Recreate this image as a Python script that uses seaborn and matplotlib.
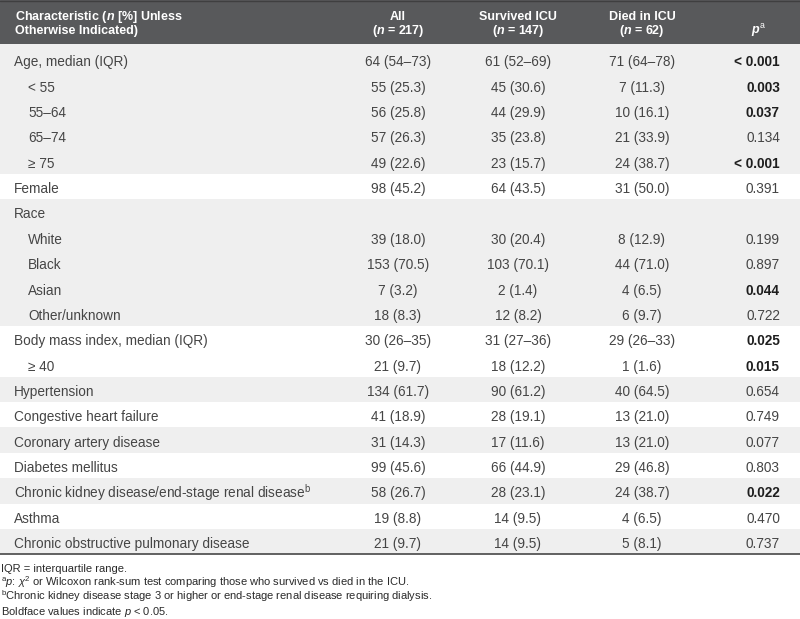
import matplotlib
matplotlib.use("Agg")
import matplotlib.pyplot as plt
import seaborn as sns
from matplotlib.patches import Rectangle

# ---------------- data ----------------
labels = ["Age, median (IQR)", "< 55", "55–64", "65–74", "≥ 75", "Female", "Race",
          "White", "Black", "Asian", "Other/unknown", "Body mass index, median (IQR)",
          "≥ 40", "Hypertension", "Congestive heart failure", "Coronary artery disease",
          "Diabetes mellitus", r"Chronic kidney disease/end-stage renal disease$^{\rm b}$",
          "Asthma", "Chronic obstructive pulmonary disease"]
levels = [0, 1, 1, 1, 1, 0, 0, 1, 1, 1, 1, 0, 1, 0, 0, 0, 0, 0, 0, 0]
all_vals = ["64 (54–73)", "55 (25.3)", "56 (25.8)", "57 (26.3)", "49 (22.6)", "98 (45.2)", "",
            "39 (18.0)", "153 (70.5)", "7 (3.2)", "18 (8.3)", "30 (26–35)", "21 (9.7)",
            "134 (61.7)", "41 (18.9)", "31 (14.3)", "99 (45.6)", "58 (26.7)", "19 (8.8)", "21 (9.7)"]
surv_vals = ["61 (52–69)", "45 (30.6)", "44 (29.9)", "35 (23.8)", "23 (15.7)", "64 (43.5)", "",
             "30 (20.4)", "103 (70.1)", "2 (1.4)", "12 (8.2)", "31 (27–36)", "18 (12.2)",
             "90 (61.2)", "28 (19.1)", "17 (11.6)", "66 (44.9)", "28 (23.1)", "14 (9.5)", "14 (9.5)"]
died_vals = ["71 (64–78)", "7 (11.3)", "10 (16.1)", "21 (33.9)", "24 (38.7)", "31 (50.0)", "",
             "8 (12.9)", "44 (71.0)", "4 (6.5)", "6 (9.7)", "29 (26–33)", "1 (1.6)",
             "40 (64.5)", "13 (21.0)", "13 (21.0)", "29 (46.8)", "24 (38.7)", "4 (6.5)", "5 (8.1)"]
p_vals = ["< 0.001", "0.003", "0.037", "0.134", "< 0.001", "0.391", "",
          "0.199", "0.897", "0.044", "0.722", "0.025", "0.015",
          "0.654", "0.749", "0.077", "0.803", "0.022", "0.470", "0.737"]
header_line1 = [r"Characteristic ($\mathbfit{n}$ [%] Unless", "All", "Survived ICU", "Died in ICU", ""]
header_line2 = ["Otherwise Indicated)", r"($\mathbfit{n}$ = 217)", r"($\mathbfit{n}$ = 147)",
                r"($\mathbfit{n}$ = 62)", r"$\mathbfit{p}^{\rm a}$"]
footnotes = ["IQR = interquartile range.",
             r"$^{\rm a}$$\mathit{p}$: $\chi^2$ or Wilcoxon rank-sum test comparing those who survived vs died in the ICU.",
             r"$^{\rm b}$Chronic kidney disease stage 3 or higher or end-stage renal disease requiring dialysis.",
             r"Boldface values indicate $\mathit{p}$ < 0.05."]

# ---------------- style ----------------
sns.set_theme(style="white")
FONT = "Liberation Sans"
plt.rcParams["font.family"] = [FONT, "DejaVu Sans"]
plt.rcParams["mathtext.fontset"] = "custom"
plt.rcParams["mathtext.rm"] = FONT
plt.rcParams["mathtext.it"] = FONT + ":italic"
plt.rcParams["mathtext.bf"] = FONT + ":bold"
plt.rcParams["mathtext.bfit"] = FONT + ":bold:italic"

W, H = 800, 619
fig = plt.figure(figsize=(8, 6.19), dpi=100)
ax = fig.add_axes([0, 0, 1, 1])
ax.set_xlim(0, W)
ax.set_ylim(H, 0)
ax.axis("off")

HEAD_BG = "#58595b"
GRAY = "#efefef"
TXT = "#454545"
FS = 9.8
HFS = 9.0

header_bottom = 44
body_top = 46.9
row_h = 25.37
x_label = 14
cols_x = [x_all, x_surv, x_died] = [398, 518, 642]
x_p = 780

# header
ax.add_patch(Rectangle((0, 0), W, header_bottom, color=HEAD_BG, lw=0))
ax.plot([0, W], [0.5, 0.5], color="#3f3f40", lw=1)
ax.text(x_label + 1, 20, header_line1[0], color="white", fontsize=HFS, fontweight="bold",
        ha="left", va="baseline")
ax.text(x_label + 1, 34, header_line2[0], color="white", fontsize=HFS, fontweight="bold",
        ha="left", va="baseline")
for x, h1, h2 in zip(cols_x, header_line1[1:4], header_line2[1:4]):
    ax.text(x, 20, h1, color="white", fontsize=HFS, fontweight="bold", ha="center", va="baseline")
    ax.text(x, 34, h2, color="white", fontsize=HFS, fontweight="bold", ha="center", va="baseline")
ax.text(758, 34, header_line2[4], color="white", fontsize=HFS, ha="center", va="baseline")

# row background bands by group
group_starts = [i for i, lv in enumerate(levels) if lv == 0]
group_ends = group_starts[1:] + [len(levels)]
for g, (s, e) in enumerate(zip(group_starts, group_ends)):
    if g % 2 == 0:
        top = body_top + s * row_h if s > 0 else header_bottom
        bot = body_top + e * row_h
        ax.add_patch(Rectangle((0, top), W, bot - top, color=GRAY, lw=0))

# body text
for i, lab in enumerate(labels):
    yb = body_top + i * row_h + row_h / 2 + 6.6
    ax.text(x_label + 14 * levels[i], yb, lab, color=TXT, fontsize=FS, ha="left", va="baseline")
    for x, vals in zip(cols_x, [all_vals, surv_vals, died_vals]):
        ax.text(x, yb, vals[i], color=TXT, fontsize=FS, ha="center", va="baseline")
    pv = p_vals[i]
    if pv:
        num = float(pv.replace("<", "").strip())
        bold = num < 0.05
        ax.text(x_p, yb, pv, color="#1e1e1e" if bold else TXT, fontsize=FS,
                fontweight="bold" if bold else "normal", ha="right", va="baseline")

table_bottom = body_top + len(labels) * row_h
ax.plot([0, W], [table_bottom, table_bottom], color="#555555", lw=1.3)

# footnotes
for j, fn in enumerate(footnotes):
    ax.text(1, 571.5 + j * 14.5, fn, color="#2a2a2a", fontsize=8.0, ha="left", va="baseline")

fig.savefig("out.png", dpi=100)
